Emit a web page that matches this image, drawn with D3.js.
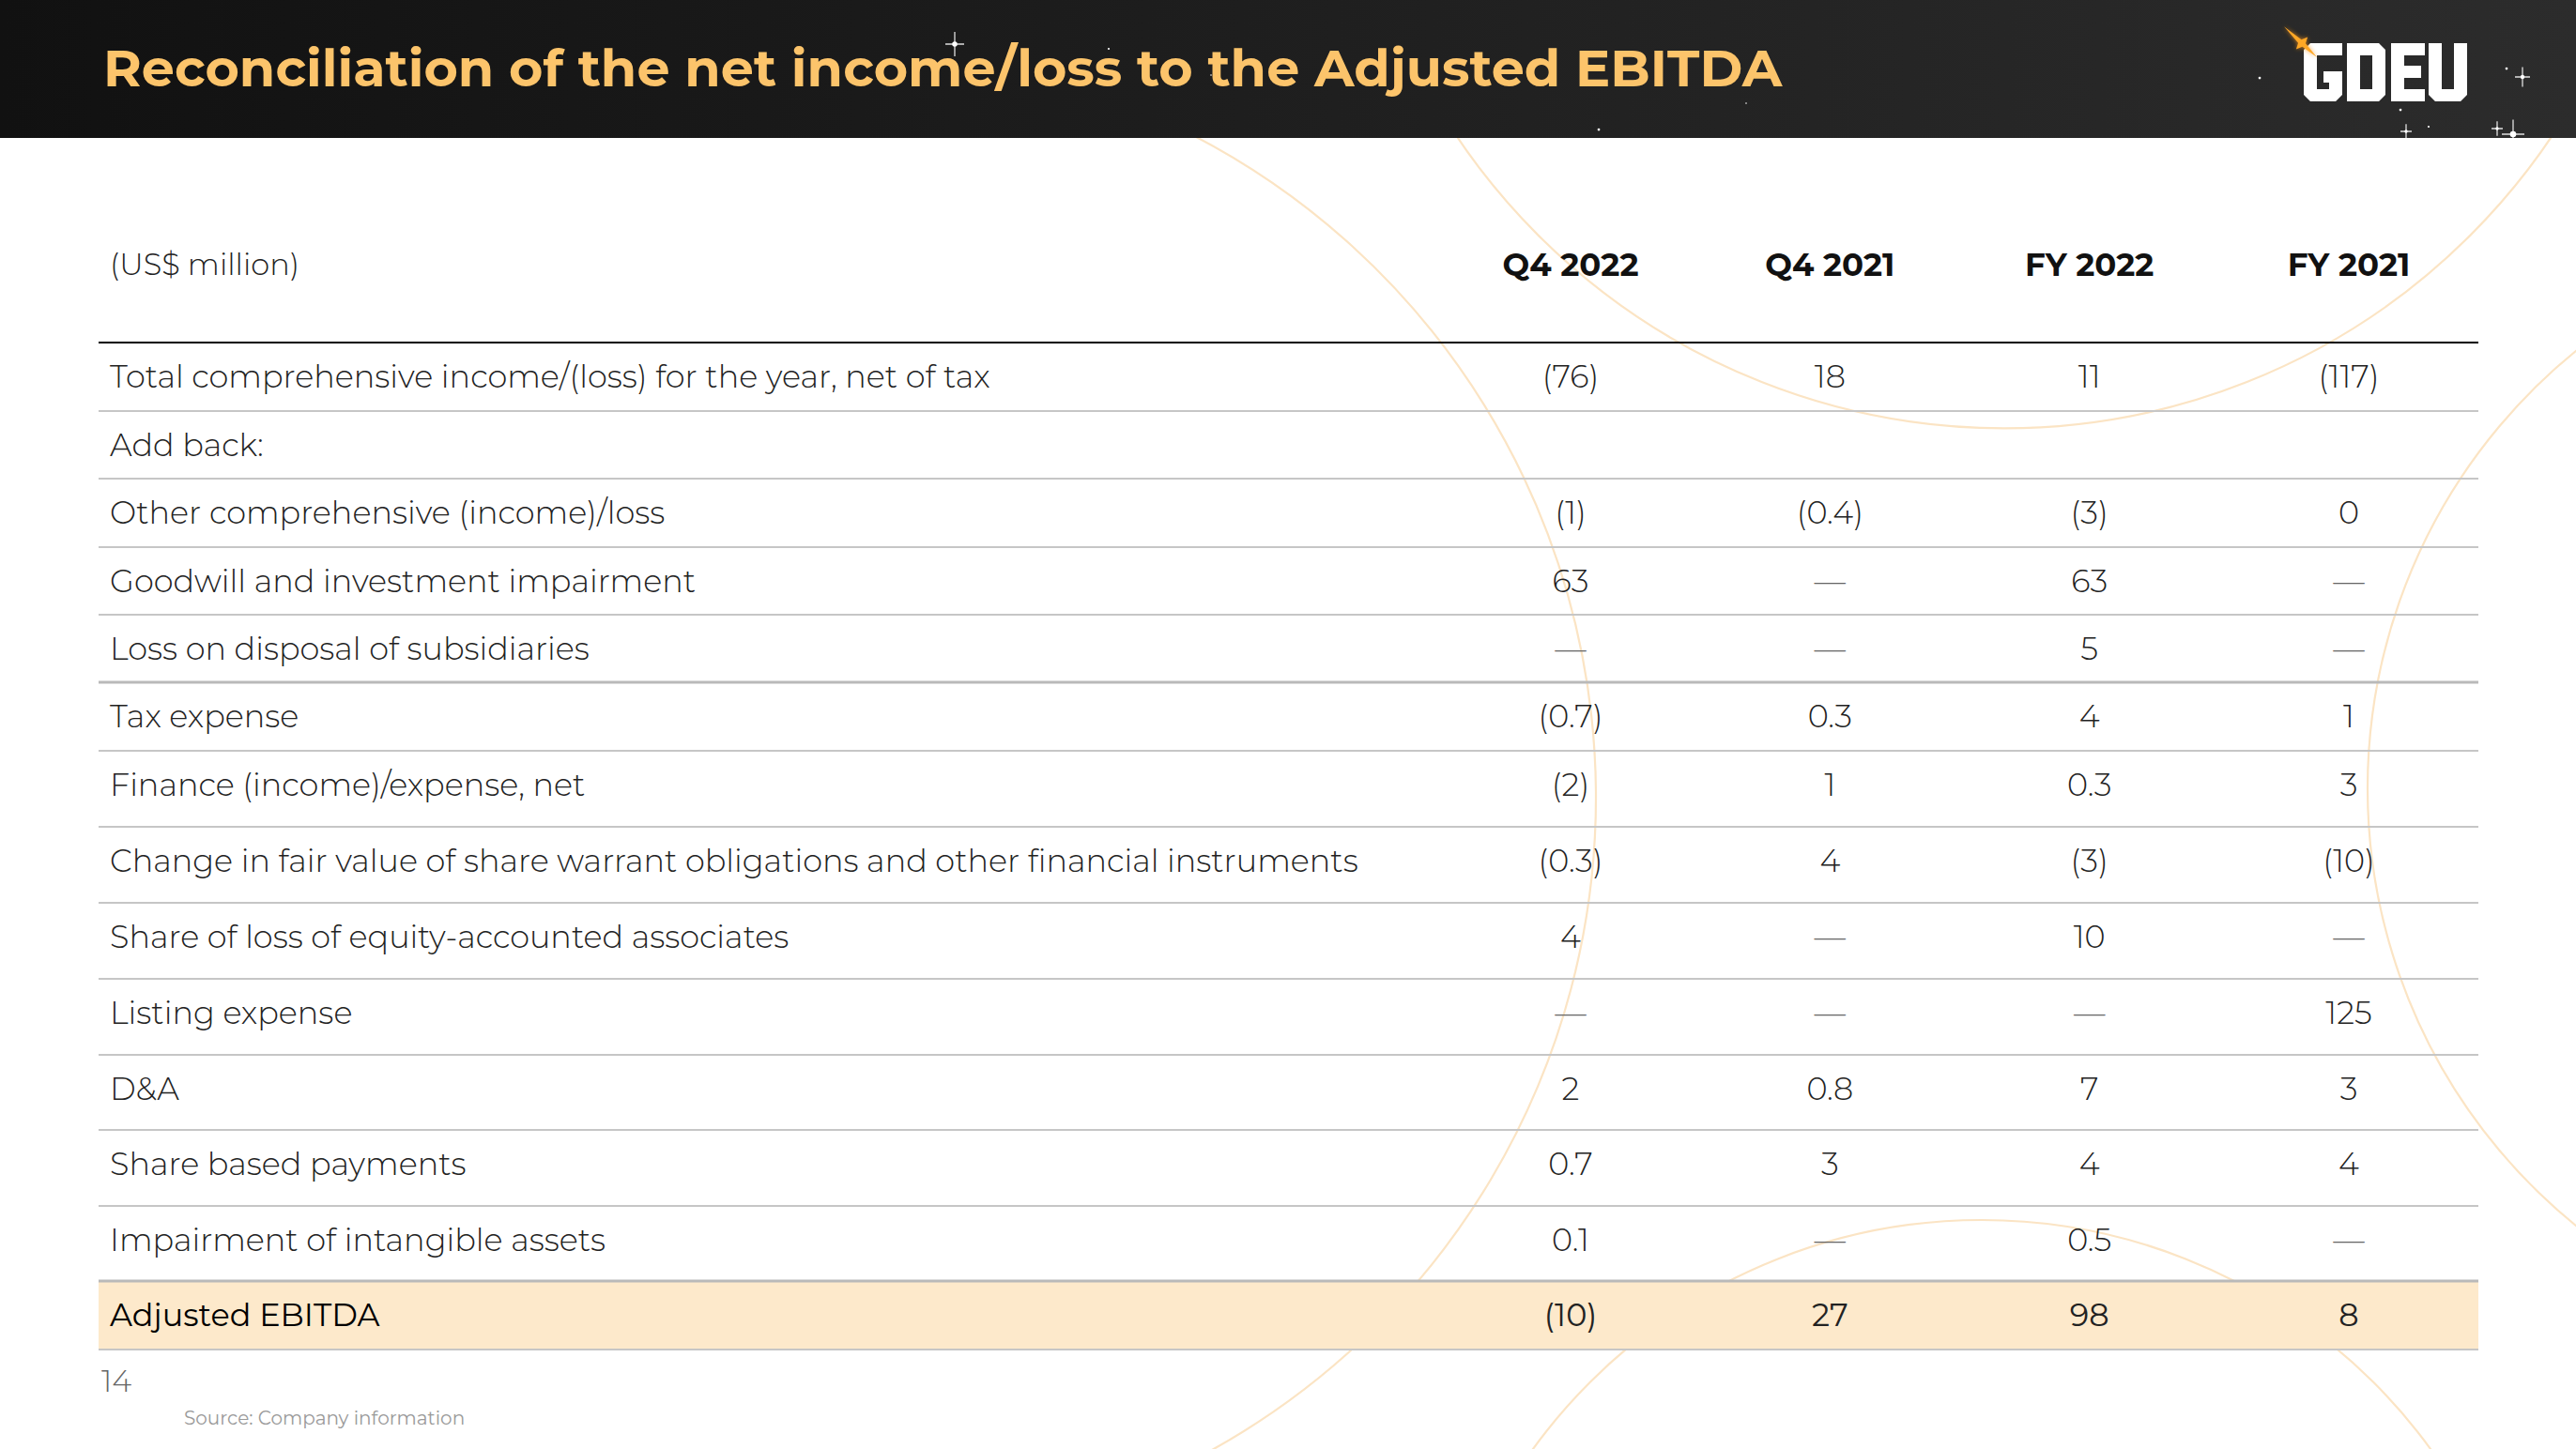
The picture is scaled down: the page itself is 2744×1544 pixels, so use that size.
<!DOCTYPE html>
<html><head><meta charset="utf-8">
<script src="https://cdn.jsdelivr.net/npm/d3@7"></script>
<style>
html,body{margin:0;padding:0;background:#fff;}
svg{display:block;}
</style></head><body>
<svg id="chart" width="2744" height="1544"></svg>
<script>
// ---------- DATA ----------
const title = "Reconciliation of the net income/loss to the Adjusted EBITDA";
const unitLabel = "(US$ million)";
const columns = ["Q4 2022", "Q4 2021", "FY 2022", "FY 2021"];
const rowLabels = [
  "Total comprehensive income/(loss) for the year, net of tax",
  "Add back:",
  "Other comprehensive (income)/loss",
  "Goodwill and investment impairment",
  "Loss on disposal of subsidiaries",
  "Tax expense",
  "Finance (income)/expense, net",
  "Change in fair value of share warrant obligations and other financial instruments",
  "Share of loss of equity-accounted associates",
  "Listing expense",
  "D&A",
  "Share based payments",
  "Impairment of intangible assets",
  "Adjusted EBITDA"
];
// "" = blank cell, null = dash
const q4_2022 = [-76, "", -1, 63, null, -0.7, -2, -0.3, 4, null, 2, 0.7, 0.1, -10];
const q4_2021 = [18, "", -0.4, null, null, 0.3, 1, 4, null, null, 0.8, 3, null, 27];
const fy_2022 = [11, "", -3, 63, 5, 4, 0.3, -3, 10, null, 7, 4, 0.5, 98];
const fy_2021 = [-117, "", 0, null, null, 1, 3, -10, null, 125, 3, 4, null, 8];
const seriesValues = [q4_2022, q4_2021, fy_2022, fy_2021];
const totalRowIndex = 13;
const pageNumber = "14";
const sourceNote = "Source: Company information";

// ---------- LAYOUT ----------
const W = 2744, H = 1544, headerH = 147;
const tableLeft = 105, tableRight = 2640, labelX = 117;
const headerLineY = 365, colHeaderY = 282;
const rowHeights = [73,72,73,72,72,73,81,81,81,81,80,81,80,73];
const textOffset = 36.5;           // text sits at a fixed offset from the row top
const strongLines = [5, 13];       // separators drawn slightly heavier (top of these rows)
const FONT = "Montserrat, 'Open Sans', 'Noto Sans', sans-serif";
const decoColor = "#fbe4c4";

const svg = d3.select("#chart");
const defs = svg.append("defs");
const grad = defs.append("linearGradient").attr("id","hdr").attr("x1","0").attr("x2","1").attr("y1","0").attr("y2","0");
grad.append("stop").attr("offset","0").attr("stop-color","#111111");
grad.append("stop").attr("offset","1").attr("stop-color","#2c2c2c");
const glow = defs.append("filter").attr("id","glow").attr("x","-2").attr("y","-2").attr("width","5").attr("height","5");
glow.append("feGaussianBlur").attr("stdDeviation","2");

svg.append("rect").attr("width",W).attr("height",H).attr("fill","#fff");

// decorative arcs (circle cx, cy, r, start angle, end angle in degrees; 0 = +x, clockwise)
const deco = svg.append("g").attr("fill","none").attr("stroke",decoColor).attr("stroke-width",2.2);
const arcPath = (cx,cy,r,a0,a1) => {
  const p = d3.path();
  p.arc(cx, cy, r, a0*Math.PI/180, a1*Math.PI/180, false);
  return p.toString();
};
[[905,850,795,-63,62],[2135,-246,702,0,180],[3122,840,600,100,260],[2111,1890,590,180,360]]
  .forEach(([cx,cy,r,a0,a1])=>deco.append("path").attr("d",arcPath(cx,cy,r,a0,a1)));

// ---------- SCALES ----------
const rowTops = [headerLineY, ...d3.cumsum(rowHeights).map(v=>v+headerLineY)];
const y = d3.scaleOrdinal().domain(d3.range(rowLabels.length)).range(rowTops.slice(0,-1));
const x = d3.scalePoint().domain(columns).range([1673, 2502]);
const fmt = v => v === "" ? "" : v === null ? "\u2014" : v < 0 ? `(${-v})` : String(v);

// highlight row
svg.append("rect")
  .attr("x", tableLeft).attr("width", tableRight - tableLeft)
  .attr("y", y(totalRowIndex)).attr("height", rowHeights[totalRowIndex])
  .attr("fill", "#fde9cb");

// row separators
svg.append("g").selectAll("line").data(rowTops.slice(1).map((v,i)=>({v,i:i+1}))).join("line")
  .attr("x1", tableLeft).attr("x2", tableRight)
  .attr("y1", d=>d.v).attr("y2", d=>d.v)
  .attr("stroke", d=>strongLines.includes(d.i)?"#b9b9b9":"#c6c6c6")
  .attr("stroke-width", d=>strongLines.includes(d.i)?3:2);
svg.append("line").attr("x1",tableLeft).attr("x2",tableRight)
  .attr("y1",headerLineY).attr("y2",headerLineY)
  .attr("stroke","#000").attr("stroke-width",2.2);

// column headers
svg.append("text").attr("x",labelX).attr("y",colHeaderY).attr("dy","0.35em")
  .attr("font-family",FONT).attr("font-weight",300).attr("font-size",32)
  .attr("fill","#222").text(unitLabel);
svg.append("g").selectAll("text").data(columns).join("text")
  .attr("x", d=>x(d)).attr("y", colHeaderY).attr("dy","0.35em")
  .attr("text-anchor","middle").attr("font-family",FONT).attr("font-weight",700)
  .attr("font-size",34).attr("fill","#111").text(d=>d);

// row labels
const labels = svg.append("g").selectAll("text").data(rowLabels).join("text")
  .attr("x", labelX).attr("y", (d,i)=>y(i) + textOffset).attr("dy","0.35em")
  .attr("font-family",FONT).attr("font-weight",(d,i)=>i===totalRowIndex?400:300)
  .attr("font-size",32).attr("fill",(d,i)=>i===totalRowIndex?"#000":"#222").text(d=>d);

const longest = labels.filter((d,i)=>i===7).node();
const bodySize = 32 * 1330 / longest.getComputedTextLength();
labels.attr("font-size", bodySize);

// values
const cells = [];
seriesValues.forEach((arr,c)=>arr.forEach((v,r)=>cells.push({c,r,v})));
svg.append("g").selectAll("text").data(cells).join("text")
  .attr("x", d=>x(columns[d.c])).attr("y", d=>y(d.r) + textOffset).attr("dy","0.35em")
  .attr("text-anchor","middle").attr("font-family",FONT)
  .attr("font-weight", d=>d.r===totalRowIndex?400:300)
  .attr("font-size", bodySize).attr("fill", d=>d.v===null?"#666":"#222")
  .text(d=>fmt(d.v));

// footer
svg.append("text").attr("x",108).attr("y",1483).attr("font-family",FONT).attr("font-weight",300)
  .attr("font-size",32).attr("fill","#666").text(pageNumber);
svg.append("text").attr("x",196).attr("y",1518).attr("font-family",FONT).attr("font-weight",400)
  .attr("font-size",20).attr("fill","#9a9a9a").text(sourceNote);

// header band
svg.append("rect").attr("width",W).attr("height",headerH).attr("fill","url(#hdr)");
const stars = [[1017,47,5],[1181,52,2],[1290,80,1.5],[1703,138,2.5],[1860,110,1.5],[2407,83,2.5],[2670,73,2.5],[2687,82,4],[2557,117,2.5],[2563,140,3],[2587,135,2],[2660,137,3],[2677,143,6]];
const sg = svg.append("g");
stars.forEach(([sx,sy,r])=>{
  sg.append("circle").attr("cx",sx).attr("cy",sy).attr("r",r*0.55).attr("fill","#fff");
  if(r>=3){
    sg.append("path").attr("d",`M${sx-r*2},${sy}L${sx+r*2},${sy}M${sx},${sy-r*2.6}L${sx},${sy+r*2.6}`)
      .attr("stroke","#fff").attr("stroke-width",1.3).attr("opacity",0.85);
  }
});
const titleEl = svg.append("text").attr("x",110).attr("y",92)
  .attr("font-family",FONT).attr("font-weight",700).attr("font-size",55)
  .attr("fill","#fcc46b").text(title);
const tw = titleEl.node().getComputedTextLength();
titleEl.attr("font-size", 55 * 1789 / tw);

// logo (blocky letters as paths)
const logo = svg.append("g").attr("transform","translate(2454,46)").attr("fill","#fff").attr("fill-rule","evenodd");
const glyphs = [
  {dx:0,  d:"M7,0 H41 V13 H14 V49 H27 V42 H21 V30 H41 V55 L34,62 H7 L0,55 V7 Z"},
  {dx:46, d:"M0,0 H34 L41,7 V55 L34,62 H0 Z M14,13 V49 H27 V13 Z"},
  {dx:93, d:"M0,0 H36 V13 H14 V24 H32 V37 H14 V49 H36 V62 H0 Z"},
  {dx:133,d:"M0,0 H14 V49 H27 V0 H41 V55 L34,62 H7 L0,55 Z"}
];
logo.selectAll("path").data(glyphs).join("path")
  .attr("transform",g=>`translate(${g.dx},0)`).attr("d",g=>g.d);
const spark = svg.append("g").attr("transform","translate(2452,46) rotate(43)");
spark.append("path").attr("d","M-26,0 L-3,-3 L0,-9 L3,-3 L22,0 L3,3 L0,9 L-3,3 Z")
  .attr("fill","#f7941d").attr("filter","url(#glow)").attr("opacity",0.7);
spark.append("path").attr("d","M-26,0 L-3,-2.5 L0,-9 L3,-2.5 L22,0 L3,2.5 L0,9 L-3,2.5 Z")
  .attr("fill","#ffa826");
</script>
</body></html>
